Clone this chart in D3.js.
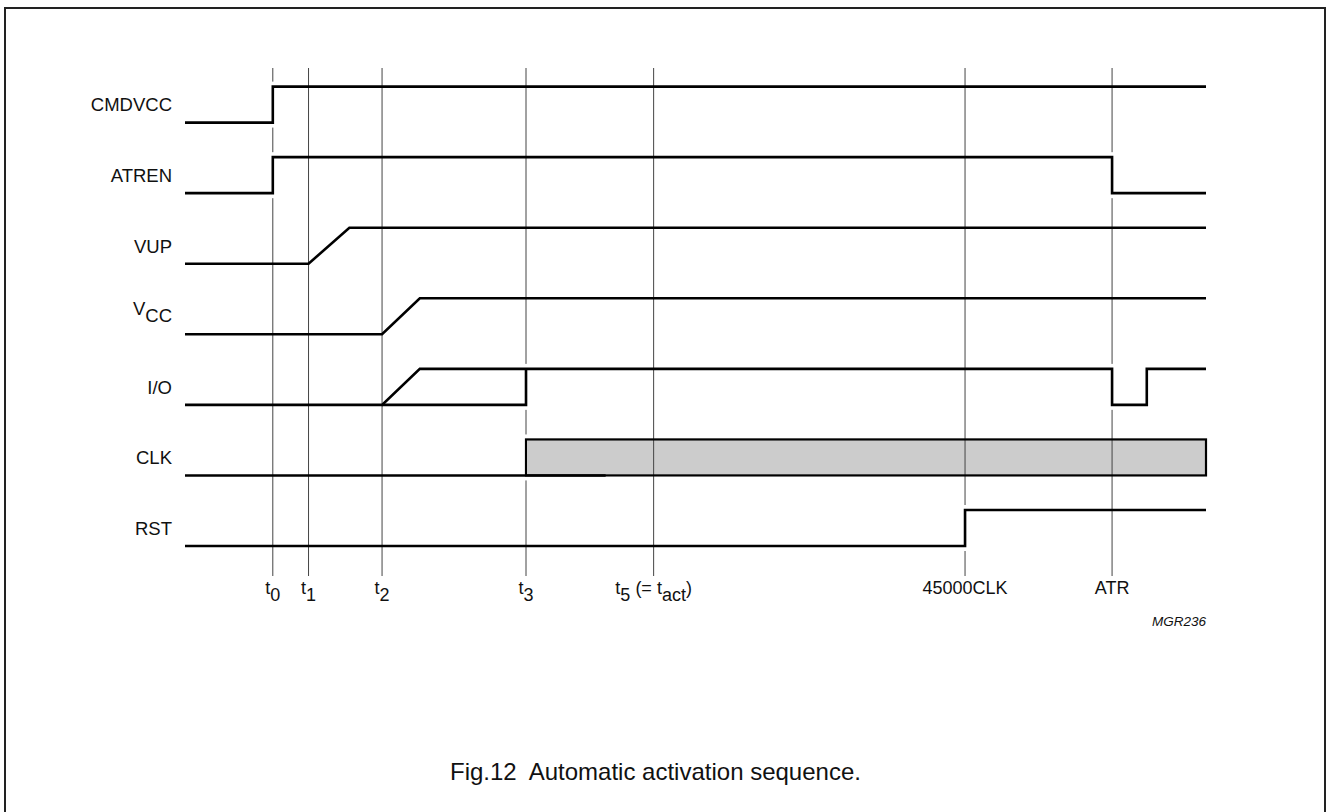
<!DOCTYPE html>
<html>
<head>
<meta charset="utf-8">
<script src="https://cdn.jsdelivr.net/npm/d3@7/dist/d3.min.js"></script>
<style>
  body { margin: 0; background: #fff; }
  svg { display: block; }
  text { font-family: "Liberation Sans", Arial, sans-serif; fill: #111; }
</style>
</head>
<body>
<svg id="chart" width="1328" height="812"></svg>
<script>
// time axis in arbitrary units: 0 = start of traces, 100 = end of traces
const markerNames = ["t0", "t1", "t2", "t3", "t5", "45000CLK", "ATR"];
const markerTimes = [8.6, 12.1, 19.3, 33.4, 45.9, 76.4, 90.8];
const markerLabels = [
  [["t", 0], ["0", 1]],
  [["t", 0], ["1", 1]],
  [["t", 0], ["2", 1]],
  [["t", 0], ["3", 1]],
  [["t", 0], ["5", 1], [" (= t", 0], ["act", 1], [")", 0]],
  [["45000CLK", 0]],
  [["ATR", 0]]
];

const signals = ["CMDVCC", "ATREN", "VUP", "VCC", "I/O", "CLK", "RST"];

// other times
const vupRampEnd = 16.1;
const vccRampEnd = 23.0;
const ioPulseEnd = 94.2;
const clkLowEnd = 41.2;

// waveforms: [time, level]
const waves = {
  "CMDVCC": [[[0, 0], [8.6, 0], [8.6, 1], [100, 1]]],
  "ATREN": [[[0, 0], [8.6, 0], [8.6, 1], [90.8, 1], [90.8, 0], [100, 0]]],
  "VUP": [[[0, 0], [12.1, 0], [vupRampEnd, 1], [100, 1]]],
  "VCC": [[[0, 0], [19.3, 0], [vccRampEnd, 1], [100, 1]]],
  "I/O": [
    [[0, 0], [19.3, 0], [vccRampEnd, 1], [90.8, 1], [90.8, 0], [ioPulseEnd, 0], [ioPulseEnd, 1], [100, 1]],
    [[19.3, 0], [33.4, 0], [33.4, 1]]
  ],
  "CLK": [[[0, 0], [clkLowEnd, 0]]],
  "RST": [[[0, 0], [76.4, 0], [76.4, 1], [100, 1]]]
};
// running clock drawn as a filled band
const clkBand = [33.4, 100];

const svg = d3.select("#chart");

// frame
svg.append("rect")
  .attr("x", 5).attr("y", 8)
  .attr("width", 1320).attr("height", 830)
  .attr("fill", "none")
  .attr("stroke", "#222")
  .attr("stroke-width", 2);

const x = d3.scaleLinear().domain([0, 100]).range([185, 1206]);
const row = d3.scalePoint().domain(signals).range([104.6, 528]);
const amp = 18;
const yOf = (name, level) => row(name) + amp - level * 2 * amp;

// clk band fill (under guides)
svg.append("rect")
  .attr("x", x(clkBand[0]))
  .attr("y", yOf("CLK", 1))
  .attr("width", x(clkBand[1]) - x(clkBand[0]))
  .attr("height", yOf("CLK", 0) - yOf("CLK", 1))
  .attr("fill", "#cccccc");

// vertical guide lines
svg.selectAll("line.guide")
  .data(markerTimes)
  .enter()
  .append("line")
  .attr("class", "guide")
  .attr("x1", (d) => x(d)).attr("x2", (d) => x(d))
  .attr("y1", 68).attr("y2", 576)
  .attr("stroke", "#444")
  .attr("stroke-width", 1);

// white gaps in the guides around each vertical edge
const edges = [];
signals.forEach((name) => {
  waves[name].forEach((pts) => {
    for (let i = 1; i < pts.length; i++) {
      if (pts[i][0] === pts[i - 1][0] && pts[i][1] !== pts[i - 1][1]) {
        edges.push({ t: pts[i][0], name: name });
      }
    }
  });
});
edges.push({ t: clkBand[0], name: "CLK" });
svg.selectAll("line.gap")
  .data(edges)
  .enter()
  .append("line")
  .attr("class", "gap")
  .attr("x1", (d) => x(d.t)).attr("x2", (d) => x(d.t))
  .attr("y1", (d) => yOf(d.name, 1) - 5)
  .attr("y2", (d) => yOf(d.name, 0) + 5)
  .attr("stroke", "#fff")
  .attr("stroke-width", 3);

// clk band outline
svg.append("rect")
  .attr("x", x(clkBand[0]))
  .attr("y", yOf("CLK", 1))
  .attr("width", x(clkBand[1]) - x(clkBand[0]))
  .attr("height", yOf("CLK", 0) - yOf("CLK", 1))
  .attr("fill", "none")
  .attr("stroke", "#000")
  .attr("stroke-width", 2.2);

// waveforms
const line = d3.line();
signals.forEach((name) => {
  waves[name].forEach((pts) => {
    svg.append("path")
      .attr("d", line(pts.map((p) => [x(p[0]), yOf(name, p[1])])))
      .attr("fill", "none")
      .attr("stroke", "#000")
      .attr("stroke-width", 2.6)
      .attr("stroke-linejoin", "miter")
      .attr("stroke-linecap", "butt");
  });
});

// signal labels
const labels = svg.selectAll("text.sig")
  .data(signals)
  .enter()
  .append("text")
  .attr("class", "sig")
  .attr("x", 172)
  .attr("y", (d) => row(d) + 6.8)
  .attr("text-anchor", "end")
  .style("font-size", "18.5px");
labels.each(function (d) {
  const t = d3.select(this);
  if (d === "VCC") {
    t.attr("y", row(d) - 1);
    t.append("tspan").text("V");
    t.append("tspan").attr("dy", 7).text("CC");
  } else {
    t.text(d);
  }
});

// marker labels under the guides
markerTimes.forEach((tm, i) => {
  const t = svg.append("text")
    .attr("x", x(tm))
    .attr("y", 594)
    .attr("text-anchor", "middle")
    .style("font-size", "18px");
  let sub = 0;
  markerLabels[i].forEach((part) => {
    const dy = part[1] - sub;
    sub = part[1];
    t.append("tspan").attr("dy", dy * 6.5).text(part[0]);
  });
});

svg.append("text")
  .attr("x", 1206).attr("y", 626)
  .attr("text-anchor", "end")
  .style("font-size", "13.5px")
  .style("font-style", "italic")
  .text("MGR236");

svg.append("text")
  .attr("x", 450).attr("y", 780)
  .style("font-size", "24px")
  .attr("xml:space", "preserve")
  .text("Fig.12  Automatic activation sequence.");
</script>
</body>
</html>
